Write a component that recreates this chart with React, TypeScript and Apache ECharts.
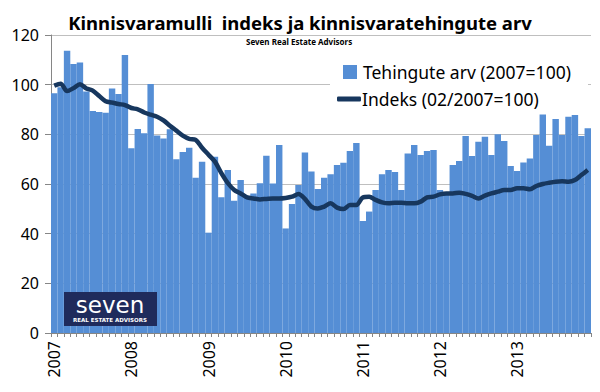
import React, { useEffect, useRef } from "react";
import * as echarts from "echarts";

const years = ["2007", "2008", "2009", "2010", "2011", "2012", "2013"];
const monthCodes = ["01", "02", "03", "04", "05", "06", "07", "08", "09", "10", "11", "12"];
const categories: string[] = [];
years.forEach((y) => monthCodes.forEach((m) => categories.push(`${y}-${m}`)));

const tehingudLabel = "Tehingute arv (2007=100)";
const indeksLabel = "Indeks (02/2007=100)";

const tehingud = [
  96.5, 99, 113.7, 108.3, 108.9, 97.2, 89.4, 89, 88.7, 98.5, 96.2, 111.9,
  74.4, 82.1, 80.4, 100.3, 79.5, 78.3, 82, 70, 72.9, 74.6, 62.5, 69,
  40.4, 71, 54.7, 65.6, 53.3, 61.6, 54.4, 56.2, 60.3, 71.4, 60.2, 75.7,
  42.1, 51.9, 59.6, 72.7, 65, 58, 62.5, 63.9, 67.7, 68.6, 73.3, 76.5,
  45.1, 48.9, 57.6, 63.9, 65.6, 64.8, 57.6, 72.3, 75.7, 71.7, 73.3, 73.7,
  57.6, 56.7, 67.7, 69.3, 79.3, 71.3, 77, 79, 71.7, 80, 77.3, 67.2,
  65.2, 68.7, 70.3, 79.7, 88, 75.4, 86.2, 79.7, 87.1, 87.8, 79.3, 82.4,
];

const indeks = [
  99.6, 100.4, 97.4, 98.6, 100.2, 98.5, 97.6, 95.4, 93.3, 92.8, 92.2, 91.8,
  90.6, 90.1, 88.8, 87.9, 87.1, 85.6, 83.5, 81.5, 79.5, 78.2, 77.8, 74.6,
  71.8, 69, 64.4, 60.4, 57.6, 56.2, 54.6, 54.2, 53.8, 54, 54.2, 54.2,
  54.4, 54.9, 56, 54, 50.9, 50.1, 50.9, 52.2, 50.5, 49.9, 51.5, 51.5,
  54.6, 54.9, 53.6, 52.6, 52.2, 52.5, 52.5, 52.2, 52.2, 52.9, 54.6, 54.9,
  55.8, 56.2, 56.2, 56.5, 56, 55.2, 54.2, 55.3, 56.2, 56.9, 57.6, 57.6,
  58.3, 58.3, 57.9, 59.2, 60, 60.5, 60.9, 61.1, 60.9, 61.6, 63.6, 65.6,
];

const yMin = 0;
const yMax = 120;
const yStep = 20;

export default function App() {
  const ref = useRef<HTMLDivElement>(null);
  useEffect(() => {
    if (!ref.current) return;
    const chart = echarts.init(ref.current, undefined, { renderer: "svg" });
    const font = "Noto Sans";
    chart.setOption({
      animation: false,
      backgroundColor: "#ffffff",
      title: [
        {
          text: "Kinnisvaramulli  indeks ja kinnisvaratehingute arv",
          left: "center",
          top: 11,
          backgroundColor: "#ffffff",
          padding: [2, 6, 0, 6],
          textStyle: { fontFamily: font, fontSize: 18.5, fontWeight: "bold", color: "#000" },
        },
        {
          text: "Seven Real Estate Advisors",
          left: 246,
          top: 37,
          padding: 0,
          textStyle: { fontFamily: font, fontSize: 8, fontWeight: "bold", color: "#000" },
        },
      ],
      legend: [
        {
          data: [tehingudLabel],
          left: 343,
          top: 63,
          itemWidth: 14,
          itemHeight: 14,
          itemGap: 4,
          padding: 0,
          selectedMode: false,
          icon: "rect",
          textStyle: { fontFamily: font, fontSize: 17.5, color: "#000", padding: [0, 0, 0, 1] },
        },
        {
          data: [indeksLabel],
          left: 337,
          top: 90,
          itemWidth: 24,
          itemHeight: 5,
          padding: 0,
          selectedMode: false,
          icon: "roundRect",
          textStyle: { fontFamily: font, fontSize: 17.5, color: "#000", padding: [0, 0, 0, -4] },
        },
      ],
      graphic: [
        {
          type: "rect",
          z: 3,
          shape: { x: 330, y: 56, width: 258, height: 56 },
          style: { fill: "#ffffff" },
        },
        {
          type: "rect",
          z: 10,
          shape: { x: 64, y: 292, width: 93, height: 34 },
          style: { fill: "#1f2b5c" },
        },
        {
          type: "text",
          z: 11,
          x: 110,
          y: 316,
          style: {
            text: "seven",
            fill: "#ffffff",
            font: "23px 'DejaVu Sans'",
            lineHeight: 23,
            align: "center",
            verticalAlign: "bottom",
          },
        },
        {
          type: "text",
          z: 11,
          x: 110,
          y: 317,
          style: {
            text: "REAL ESTATE ADVISORS",
            fill: "#ffffff",
            font: "bold 5.5px 'DejaVu Sans'",
            lineHeight: 6,
            align: "center",
            verticalAlign: "top",
          },
        },
      ],
      grid: { left: 51, right: 9, top: 35, bottom: 59, containLabel: false },
      xAxis: {
        type: "category",
        data: categories,
        boundaryGap: true,
        axisLine: { lineStyle: { color: "#868686", width: 1 } },
        axisTick: { show: true, interval: 0, length: 4, lineStyle: { color: "#868686" } },
        axisLabel: {
          interval: (i: number) => i % 12 === 0,
          rotate: 90,
          formatter: (v: string) => v.slice(0, 4),
          fontFamily: font,
          fontSize: 16,
          color: "#000",
          margin: 8,
        },
      },
      yAxis: {
        type: "value",
        min: yMin,
        max: yMax,
        interval: yStep,
        axisLine: { show: true, lineStyle: { color: "#868686" } },
        axisTick: { show: true, length: 6, lineStyle: { color: "#868686" } },
        splitLine: { lineStyle: { color: "#bfbfbf", width: 1 } },
        axisLabel: { fontFamily: font, fontSize: 16, color: "#000", margin: 12 },
      },
      series: [
        {
          name: tehingudLabel,
          type: "bar",
          data: tehingud,
          barCategoryGap: "0%",
          itemStyle: { color: "#558ed5" },
          z: 2,
        },
        {
          name: indeksLabel,
          type: "line",
          data: indeks,
          symbol: "none",
          smooth: 0.3,
          lineStyle: { color: "#17375e", width: 4.5 },
          itemStyle: { color: "#17375e" },
          z: 4,
        },
      ],
    });
    return () => chart.dispose();
  }, []);
  return <div ref={ref} style={{ width: 600, height: 392, margin: -8 }} />;
}
